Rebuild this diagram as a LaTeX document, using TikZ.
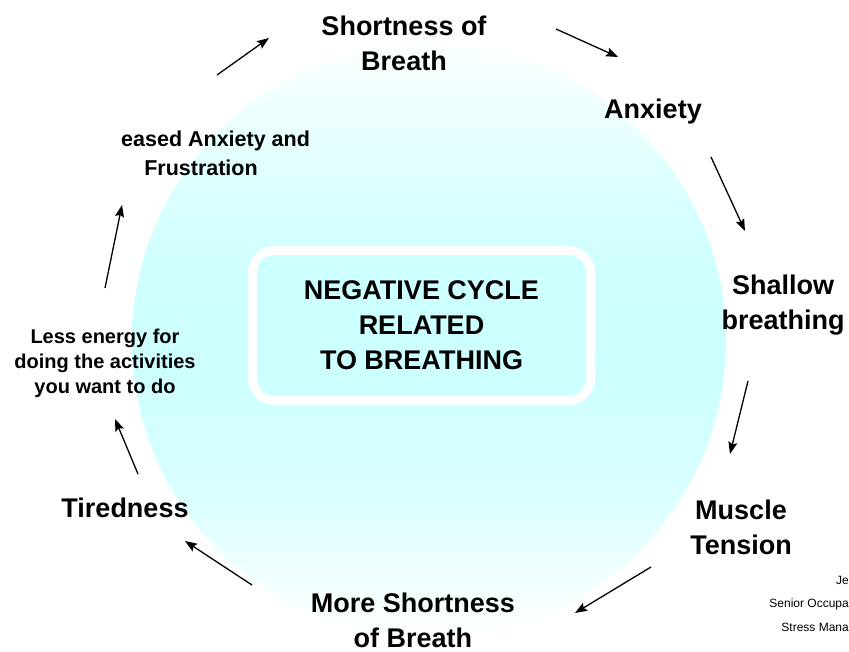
\documentclass[tikz,border=0pt]{standalone}
\usepackage{fontspec}
\setmainfont{Liberation Sans}
\usetikzlibrary{arrows.meta}
\definecolor{lysblaa}{HTML}{CCFFFF}
% white at top and bottom, pale cyan in the middle
\pgfdeclareverticalshading{skygge}{100bp}{
  color(0bp)=(white); color(25bp)=(white);
  color(38bp)=(lysblaa!75!white); color(48bp)=(lysblaa);
  color(58bp)=(lysblaa!90!white); color(75bp)=(lysblaa!8!white);
  color(100bp)=(white)}
\tikzset{
    %Define standard arrow tip
    >={Stealth[length=12pt,width=9pt,inset=2pt]},
    %Define style for the step labels
    tekst/.style={
           font=\fontsize{27}{35}\selectfont\bfseries,
           align=center,
           inner sep=0pt},
    smaltekst/.style={
           tekst,
           font=\fontsize{20}{25}\selectfont\bfseries},
    liten/.style={
           font=\fontsize{12}{14}\selectfont,
           inner sep=0pt},
    %Define style for the centre box
    boks/.style={
           rectangle,
           rounded corners=22pt,
           draw=white, line width=9pt,
           fill=lysblaa,
           minimum width=338pt,
           minimum height=150pt,
           font=\fontsize{27}{35}\selectfont\bfseries,
           align=center},
    % Define arrow style
    pil/.style={
           ->,
           line width=1.3pt}
}
\begin{document}
\begin{tikzpicture}[x=1pt,y=-1pt]
 \useasboundingbox (0,0) rectangle (849,652);
 % background disc
 \node[circle, minimum size=594pt, inner sep=0pt, shading=skygge] (sirkel) at (429,341) {};
 % centre box
 \node[boks] (midt) at (421.5,325.5) {NEGATIVE CYCLE\\RELATED\\TO BREATHING};
 %nodes round the cycle
 \node[tekst] (pust) at (404,43) {Shortness of\\Breath};
 \node[tekst] (angst) at (653,112) {Anxiety};
 \node[tekst] (grunn) at (783,305) {Shallow\\breathing};
 \node[tekst] (muskel) at (741,527) {Muscle\\Tension};
 \node[tekst] (mer) at (413,620) {More Shortness\\of Breath};
 \node[tekst] (trett) at (125,508) {Tiredness};
 \node[smaltekst] (energi) at (105,363) {Less energy for\\doing the activities\\you want to do};
 \node[smaltekst, font=\fontsize{21.5}{26}\selectfont\bfseries, anchor=west] (mindre) at (121,141) {eased Anxiety and};
 \node[smaltekst, font=\fontsize{21.5}{26}\selectfont\bfseries] (frust) at (201,168) {Frustration};
 % small text, cut at the edge
 \node[liten, anchor=east] (navn) at (849,580) {Je};
 \node[liten, anchor=east] (tittel) at (849,604) {Senior Occupa};
 \node[liten, anchor=east] (kurs) at (849,627) {Stress Mana};
 % arrow ends
 \coordinate (a1) at (556,29);  \coordinate (b1) at (618,57);
 \coordinate (a2) at (711,157); \coordinate (b2) at (745,231);
 \coordinate (a3) at (748,381); \coordinate (b3) at (730,454);
 \coordinate (a4) at (651,567); \coordinate (b4) at (575,613);
 \coordinate (a5) at (252,585); \coordinate (b5) at (185,541);
 \coordinate (a6) at (138,474); \coordinate (b6) at (115,419);
 \coordinate (a7) at (105,288); \coordinate (b7) at (122,205);
 \coordinate (a8) at (217,75);  \coordinate (b8) at (269,38);
 \foreach \i in {1,...,8}
   \draw[pil] (a\i) -- (b\i);
\end{tikzpicture}
\end{document}
